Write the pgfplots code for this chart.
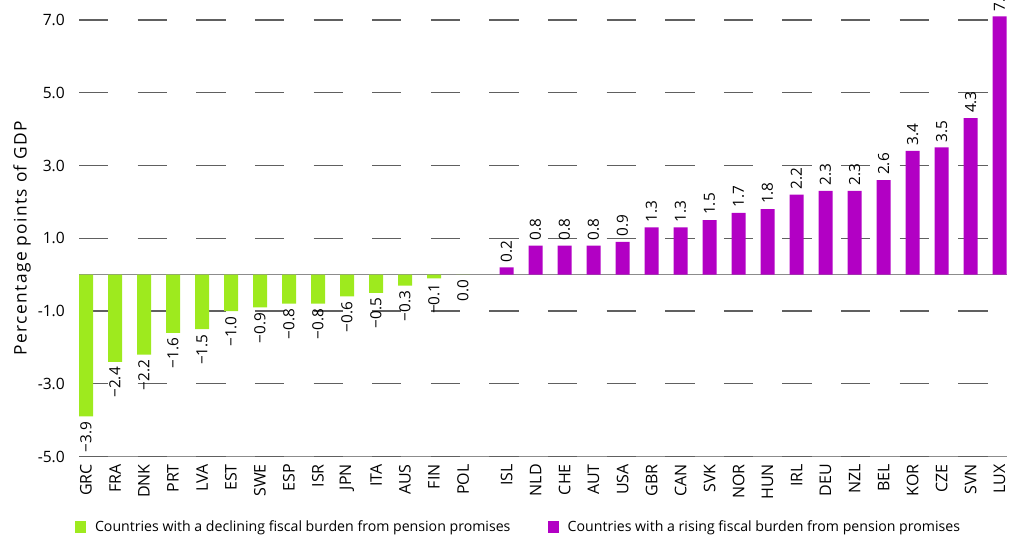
\documentclass[border=0pt]{standalone}
\usepackage{fontspec}
\setmainfont{Open Sans}
\usepackage{pgfplots}
\pgfplotsset{compat=1.18}
\definecolor{declgreen}{RGB}{158,234,30}
\definecolor{risepurple}{RGB}{178,0,196}
\definecolor{gridgray}{RGB}{96,96,96}
\definecolor{lightgray}{RGB}{140,140,140}
\begin{document}
\begin{tikzpicture}
\begin{axis}[
  x=21.75pt, y=27.28pt,
  xmin=-0.24, xmax=31.76, ymin=-5, ymax=7.55,
  clip=false,
  axis lines*=left,
  y axis line style={draw=none},
  x axis line style={draw=lightgray, line width=0.9pt, dash pattern=on 21.98pt off 21.98pt, dash phase=21.98pt},
  major tick length=0pt,
  ytick={-5,-3,-1,1,3,5,7},
  yticklabels={-5.0,-3.0,-1.0,1.0,3.0,5.0,7.0},
  yticklabel style={font=\fontsize{11.7}{13}\selectfont, anchor=east, inner sep=0pt},
  yticklabel shift=10.5pt,
  ymajorgrids,
  grid style={draw=gridgray, line width=0.9pt, dash pattern=on 21.98pt off 21.98pt},
  extra y ticks={0},
  extra y tick labels={},
  extra y tick style={grid style={solid, draw=lightgray, line width=0.9pt}},
  xtick={0,1,2,3,4,5,6,7,8,9,10,11,12,13,14.5,15.5,16.5,17.5,18.5,19.5,20.5,21.5,22.5,23.5,24.5,25.5,26.5,27.5,28.5,29.5,30.5,31.5},
  xticklabels={GRC,FRA,DNK,PRT,LVA,EST,SWE,ESP,ISR,JPN,ITA,AUS,FIN,POL,ISL,NLD,CHE,AUT,USA,GBR,CAN,SVK,NOR,HUN,IRL,DEU,NZL,BEL,KOR,CZE,SVN,LUX},
  xticklabel style={rotate=90, anchor=east, inner sep=0pt, font=\fontsize{12}{13}\selectfont},
  xticklabel shift=5.6pt,
  ylabel={Percentage points of GDP},
  ylabel style={at={(axis description cs:-0.0614,0.4786)}, anchor=center, font=\fontsize{13}{15}\selectfont\addfontfeatures{LetterSpace=8}},
  legend columns=2,
  legend style={at={(-0.0043,-0.1544)}, anchor=west, draw=none, fill=none, inner sep=0pt, outer sep=0pt,
    font=\fontsize{10.6}{12}\selectfont,
    /tikz/every odd column/.append style={column sep=4.5pt},
    /tikz/every even column/.append style={column sep=26pt}},
  legend image code/.code={\fill[#1] (0pt,-4.25pt) rectangle (8.5pt,4.25pt);},
]
\addplot[ybar, bar width=10.5pt, bar shift=0pt, fill=declgreen, draw=none,
  point meta=explicit symbolic, nodes near coords,
  nodes near coords style={rotate=90, anchor=east, inner sep=3.75pt, font=\fontsize{11.5}{13}\selectfont, text=black}]
coordinates {
(0,-3.9) [−3.9]
(1,-2.4) [−2.4]
(2,-2.2) [−2.2]
(3,-1.6) [−1.6]
(4,-1.5) [−1.5]
(5,-1.0) [−1.0]
(6,-0.9) [−0.9]
(7,-0.8) [−0.8]
(8,-0.8) [−0.8]
(9,-0.6) [−0.6]
(10,-0.5) [−0.5]
(11,-0.3) [−0.3]
(12,-0.1) [−0.1]
(13,0.0) [0.0]
};
\addplot[ybar, bar width=10.5pt, bar shift=0pt, fill=risepurple, draw=none,
  point meta=explicit symbolic, nodes near coords,
  nodes near coords style={rotate=90, anchor=west, inner sep=3.75pt, font=\fontsize{11.5}{13}\selectfont, text=black}]
coordinates {
(14.5,0.2) [0.2]
(15.5,0.8) [0.8]
(16.5,0.8) [0.8]
(17.5,0.8) [0.8]
(18.5,0.9) [0.9]
(19.5,1.3) [1.3]
(20.5,1.3) [1.3]
(21.5,1.5) [1.5]
(22.5,1.7) [1.7]
(23.5,1.8) [1.8]
(24.5,2.2) [2.2]
(25.5,2.3) [2.3]
(26.5,2.3) [2.3]
(27.5,2.6) [2.6]
(28.5,3.4) [3.4]
(29.5,3.5) [3.5]
(30.5,4.3) [4.3]
(31.5,7.1) [7.1]
};
\legend{Countries with a declining fiscal burden from pension promises, Countries with a rising fiscal burden from pension promises}
\coordinate (bbsw) at (axis cs:-2.966,-7.213);
\coordinate (bbne) at (axis cs:31.998,7.55);
\end{axis}
\pgfresetboundingbox
\useasboundingbox (bbsw) rectangle (bbne);
\end{tikzpicture}
\end{document}
